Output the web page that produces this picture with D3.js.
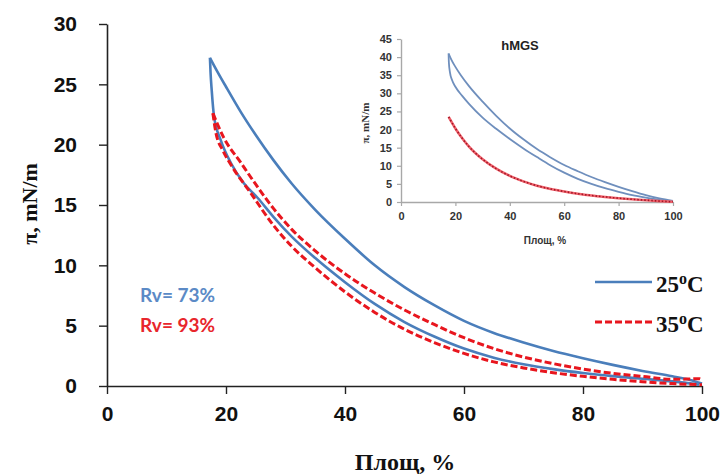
<!DOCTYPE html>
<html>
<head>
<meta charset="utf-8">
<script src="https://cdn.jsdelivr.net/npm/d3@7"></script>
<style>
  body { margin: 0; background: #fff; }
  svg { display: block; }
</style>
</head>
<body>
<div id="chart"></div>
<script>
// main chart: surface pressure vs area, each loop = compression then expansion
const comp25 = [[100,0.2],[98,0.5],[95,0.8],[90,1.25],[85,1.75],[80,2.3],[75,2.9],[70,3.6],[65,4.4],[60,5.4],[55,6.7],[50,8.2],[45,10.0],[40,12.2],[35,14.6],[31,16.8],[28,18.7],[25,20.8],[22.5,22.7],[20,24.8],[18.5,26.1],[17.3,27.2]];
const exp25 = [[17.3,27.2],[17.4,26],[17.6,24.5],[18,22.3],[19.1,20.4],[20.8,18.5],[23,16.8],[25.3,15.6],[28,14.0],[31,12.4],[35,10.6],[40,8.6],[45,6.8],[50,5.3],[55,4.1],[60,3.1],[65,2.35],[70,1.8],[75,1.4],[80,1.08],[85,0.82],[90,0.6],[95,0.38],[98,0.22],[99.5,0.1]];
const comp35 = [[100,0.5],[99.6,0.6],[95,0.55],[90,0.8],[85,1.05],[80,1.4],[75,1.85],[70,2.4],[65,3.1],[60,4.0],[55,5.1],[50,6.3],[45,7.7],[40,9.3],[35,11.2],[31,13.0],[28,14.7],[25.3,16.5],[22.5,18.5],[19.6,20.6],[17.8,22.6]];
const exp35 = [[17.8,22.6],[18.3,21.0],[19.5,19.5],[21,18.2],[24,16.1],[28,13.3],[31,11.6],[35,9.8],[40,7.8],[45,6.1],[50,4.7],[55,3.6],[60,2.7],[65,2.0],[70,1.5],[75,1.1],[80,0.8],[85,0.55],[90,0.35],[95,0.2],[100,0.1]];

// inset (hMGS)
const insetComp = [[100,0.3],[95,1.0],[90,1.9],[85,3.0],[80,4.2],[75,5.5],[70,6.9],[65,8.5],[60,10.2],[55,12.3],[50,14.6],[45,17.3],[40,20.3],[35,23.8],[30,27.7],[25,32.0],[22,35.0],[20,37.3],[18.5,39.3],[17.5,41]];
const insetExp = [[17.5,41],[17.6,38.5],[18,35.8],[18.8,33.6],[20,31.8],[22.5,29.3],[25,27.1],[30,23.3],[35,20.2],[40,17.4],[45,14.8],[50,12.4],[55,10.1],[60,8.1],[65,6.4],[70,5.0],[75,3.8],[80,2.8],[85,1.9],[90,1.2],[95,0.6],[100,0.2]];
const insetRed = [[17.5,23.5],[20,20.3],[22.5,17.6],[25,15.3],[30,11.8],[35,9.2],[40,7.2],[45,5.7],[50,4.5],[55,3.6],[60,2.9],[65,2.3],[70,1.8],[75,1.4],[80,1.05],[85,0.75],[90,0.5],[95,0.25],[100,0.05]];

const xTicks = [0, 20, 40, 60, 80, 100];
const yTicks = [0, 5, 10, 15, 20, 25, 30];
const insetYTicks = [0, 5, 10, 15, 20, 25, 30, 35, 40, 45];
const legendLabels = ["25", "35"];
const rvLabels = ["Rv= 73%", "Rv= 93%"];

const blue = "#4a7ebb", red = "#e8161e";

const svg = d3.select("#chart").append("svg")
    .attr("width", 727).attr("height", 474);

const x = d3.scaleLinear().domain([0, 100]).range([107, 702]);
const y = d3.scaleLinear().domain([0, 30]).range([386, 24]);

// axes
const gx = svg.append("g").attr("transform", "translate(0,386)")
    .call(d3.axisBottom(x).tickValues(xTicks).tickSize(8).tickSizeOuter(0).tickPadding(8));
const gy = svg.append("g").attr("transform", "translate(107,0)")
    .call(d3.axisLeft(y).tickValues(yTicks).tickSize(8).tickSizeOuter(0).tickPadding(22));
[gx, gy].forEach(g => {
  g.select(".domain").attr("stroke", "#222").attr("stroke-width", 1.6);
  g.selectAll(".tick line").attr("stroke", "#222").attr("stroke-width", 1.4);
  g.selectAll("text").attr("font-family", "Liberation Sans, Arial, sans-serif")
    .attr("font-weight", "bold").attr("font-size", 21).attr("fill", "#111");
});
gx.selectAll("text").attr("dy", "0.9em");

// lines (each branch sorted by x so the monotone curve has no overshoot)
const asc = a => a.slice().sort((p, q) => p[0] - q[0]);
const line = d3.line().x(d => x(d[0])).y(d => y(d[1])).curve(d3.curveMonotoneX);
[comp25, exp25].forEach(s => svg.append("path").attr("d", line(asc(s)))
    .attr("fill", "none").attr("stroke", blue).attr("stroke-width", 2.6));
[comp35, exp35].forEach(s => svg.append("path").attr("d", line(asc(s)))
    .attr("fill", "none").attr("stroke", red).attr("stroke-width", 3).attr("stroke-dasharray", "7,3"));

// axis titles
svg.append("text").attr("transform", "translate(37,204) rotate(-90)")
    .attr("text-anchor", "middle").attr("font-family", "Liberation Serif, Times New Roman, serif")
    .attr("font-weight", "bold").attr("font-size", 22).attr("fill", "#111")
    .text("π, mN/m");
svg.append("text").attr("x", 405).attr("y", 470)
    .attr("text-anchor", "middle").attr("font-family", "Liberation Serif, Times New Roman, serif")
    .attr("font-weight", "bold").attr("font-size", 24).attr("fill", "#111")
    .text("Площ, %");

// Rv labels
svg.selectAll(".rv").data(rvLabels).enter().append("text")
    .attr("x", 140).attr("y", (d, i) => 302 + i * 30)
    .attr("font-family", "Lato, Open Sans, sans-serif").attr("font-weight", "bold")
    .attr("font-size", 19).attr("fill", (d, i) => i ? "#e8262c" : "#5b8ac6")
    .text(d => d);

// legend
const leg = svg.selectAll(".leg").data(legendLabels).enter().append("g")
    .attr("transform", (d, i) => `translate(0,${282 + i * 40})`);
leg.append("line").attr("x1", 595).attr("x2", 652)
    .attr("stroke", (d, i) => i ? red : blue)
    .attr("stroke-width", (d, i) => i ? 3 : 2.6)
    .attr("stroke-dasharray", (d, i) => i ? "7,3" : null);
const lt = leg.append("text").attr("x", 656).attr("y", 10)
    .attr("font-family", "Liberation Serif, Times New Roman, serif")
    .attr("font-weight", "bold").attr("font-size", 23).attr("fill", "#111");
lt.append("tspan").text(d => d);
lt.append("tspan").attr("dy", -8).attr("font-size", 16).text("o");
lt.append("tspan").attr("dy", 8).text("C");

// inset
const ix = d3.scaleLinear().domain([0, 100]).range([401, 673]);
const iy = d3.scaleLinear().domain([0, 45]).range([202, 39]);
const igx = svg.append("g").attr("transform", "translate(0,202)")
    .call(d3.axisBottom(ix).tickValues(xTicks).tickSize(4).tickSizeOuter(0).tickPadding(6));
const igy = svg.append("g").attr("transform", "translate(401,0)")
    .call(d3.axisLeft(iy).tickValues(insetYTicks).tickSize(4).tickSizeOuter(0).tickPadding(5));
[igx, igy].forEach(g => {
  g.select(".domain").attr("stroke", "#a8a8a8").attr("stroke-width", 1.4);
  g.selectAll(".tick line").attr("stroke", "#a8a8a8").attr("stroke-width", 1.2);
  g.selectAll("text").attr("font-family", "Liberation Sans, Arial, sans-serif")
    .attr("font-weight", "bold").attr("font-size", 11).attr("fill", "#333");
});

const iline = d3.line().x(d => ix(d[0])).y(d => iy(d[1])).curve(d3.curveMonotoneX);
[insetComp, insetExp].forEach(s => svg.append("path").attr("d", iline(asc(s)))
    .attr("fill", "none").attr("stroke", "#6f8fbd").attr("stroke-width", 1.8));
svg.append("path").attr("d", iline(asc(insetRed)))
    .attr("fill", "none").attr("stroke", "#f0606a").attr("stroke-width", 2.6);
svg.append("path").attr("d", iline(asc(insetRed)))
    .attr("fill", "none").attr("stroke", "#a01828").attr("stroke-width", 1.6).attr("stroke-dasharray", "1.5,2");

svg.append("text").attr("x", 520).attr("y", 50).attr("text-anchor", "middle")
    .attr("font-family", "Liberation Sans, Arial, sans-serif").attr("font-weight", "bold")
    .attr("font-size", 13).attr("fill", "#222").text("hMGS");
svg.append("text").attr("x", 545).attr("y", 244).attr("text-anchor", "middle")
    .attr("font-family", "Liberation Sans, Arial, sans-serif").attr("font-weight", "bold")
    .attr("font-size", 10).attr("fill", "#333").text("Площ, %");
svg.append("text").attr("transform", "translate(369,123) rotate(-90)").attr("text-anchor", "middle")
    .attr("font-family", "Liberation Serif, Times New Roman, serif").attr("font-weight", "bold")
    .attr("font-size", 11).attr("fill", "#333").text("π, mN/m");
</script>
</body>
</html>
